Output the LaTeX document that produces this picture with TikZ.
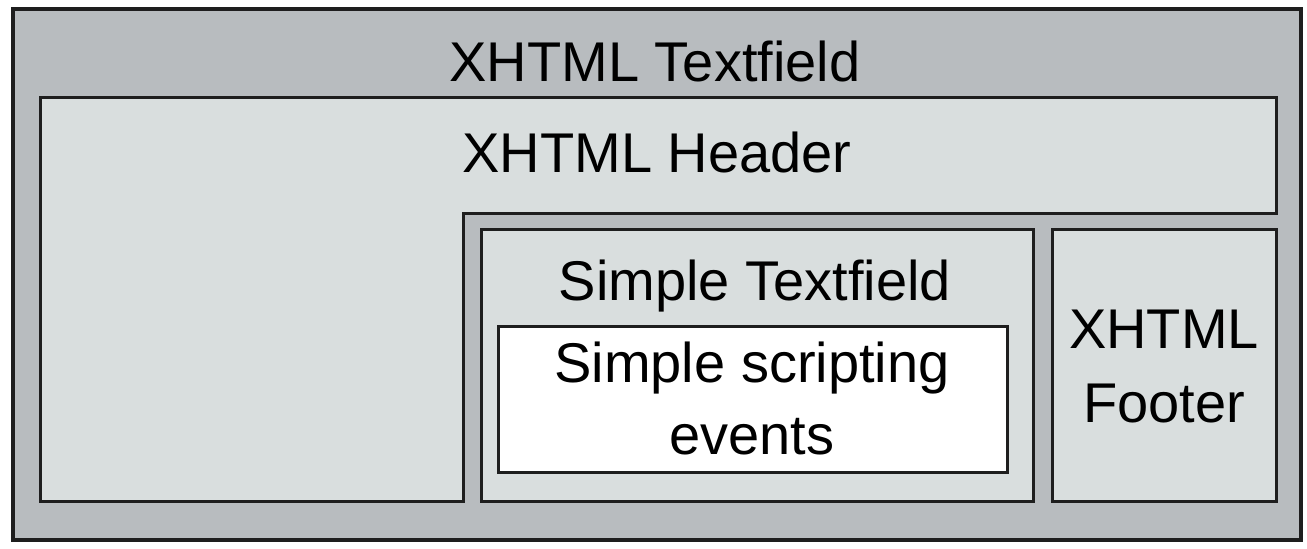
\documentclass[tikz,border=0pt]{standalone}
\usepackage{fontspec}
\setmainfont{Liberation Sans}
\definecolor{outerfill}{RGB}{184,188,191}
\definecolor{innerfill}{RGB}{217,222,222}
\definecolor{edge}{RGB}{30,30,30}
\tikzset{
  boxline/.style={draw=edge, line width=3pt},
  lbl/.style={anchor=base, inner sep=0pt, text=black, font=\fontsize{56}{72}\selectfont, align=center},
}
\begin{document}
\begin{tikzpicture}[x=1pt,y=-1pt]
\useasboundingbox (0,0) rectangle (1307,549);
% outer textfield
\draw[boxline, fill=outerfill, line width=3.5pt] (13,9) rectangle (1301,540);
% header L-shape
\draw[boxline, fill=innerfill] (40,97) -- (1276,97) -- (1276,213) -- (463,213) -- (463,501) -- (40,501) -- cycle;
% simple textfield
\draw[boxline, fill=innerfill] (481,229) rectangle (1033,501);
% footer
\draw[boxline, fill=innerfill] (1052,229) rectangle (1276,501);
% scripting events
\draw[boxline, fill=white] (498,326) rectangle (1007,472);
% labels
\node[lbl] (tf) at (655,81) {XHTML Textfield};
\node[lbl] (hd) at (657,172) {XHTML Header};
\node[lbl] (st) at (755,300) {Simple Textfield};
\node[lbl] (se1) at (752,382) {Simple scripting};
\node[lbl] (se2) at (752,454) {events};
\node[lbl] (ft1) at (1164,348) {XHTML};
\node[lbl] (ft2) at (1164,422) {Footer};
\end{tikzpicture}
\end{document}
